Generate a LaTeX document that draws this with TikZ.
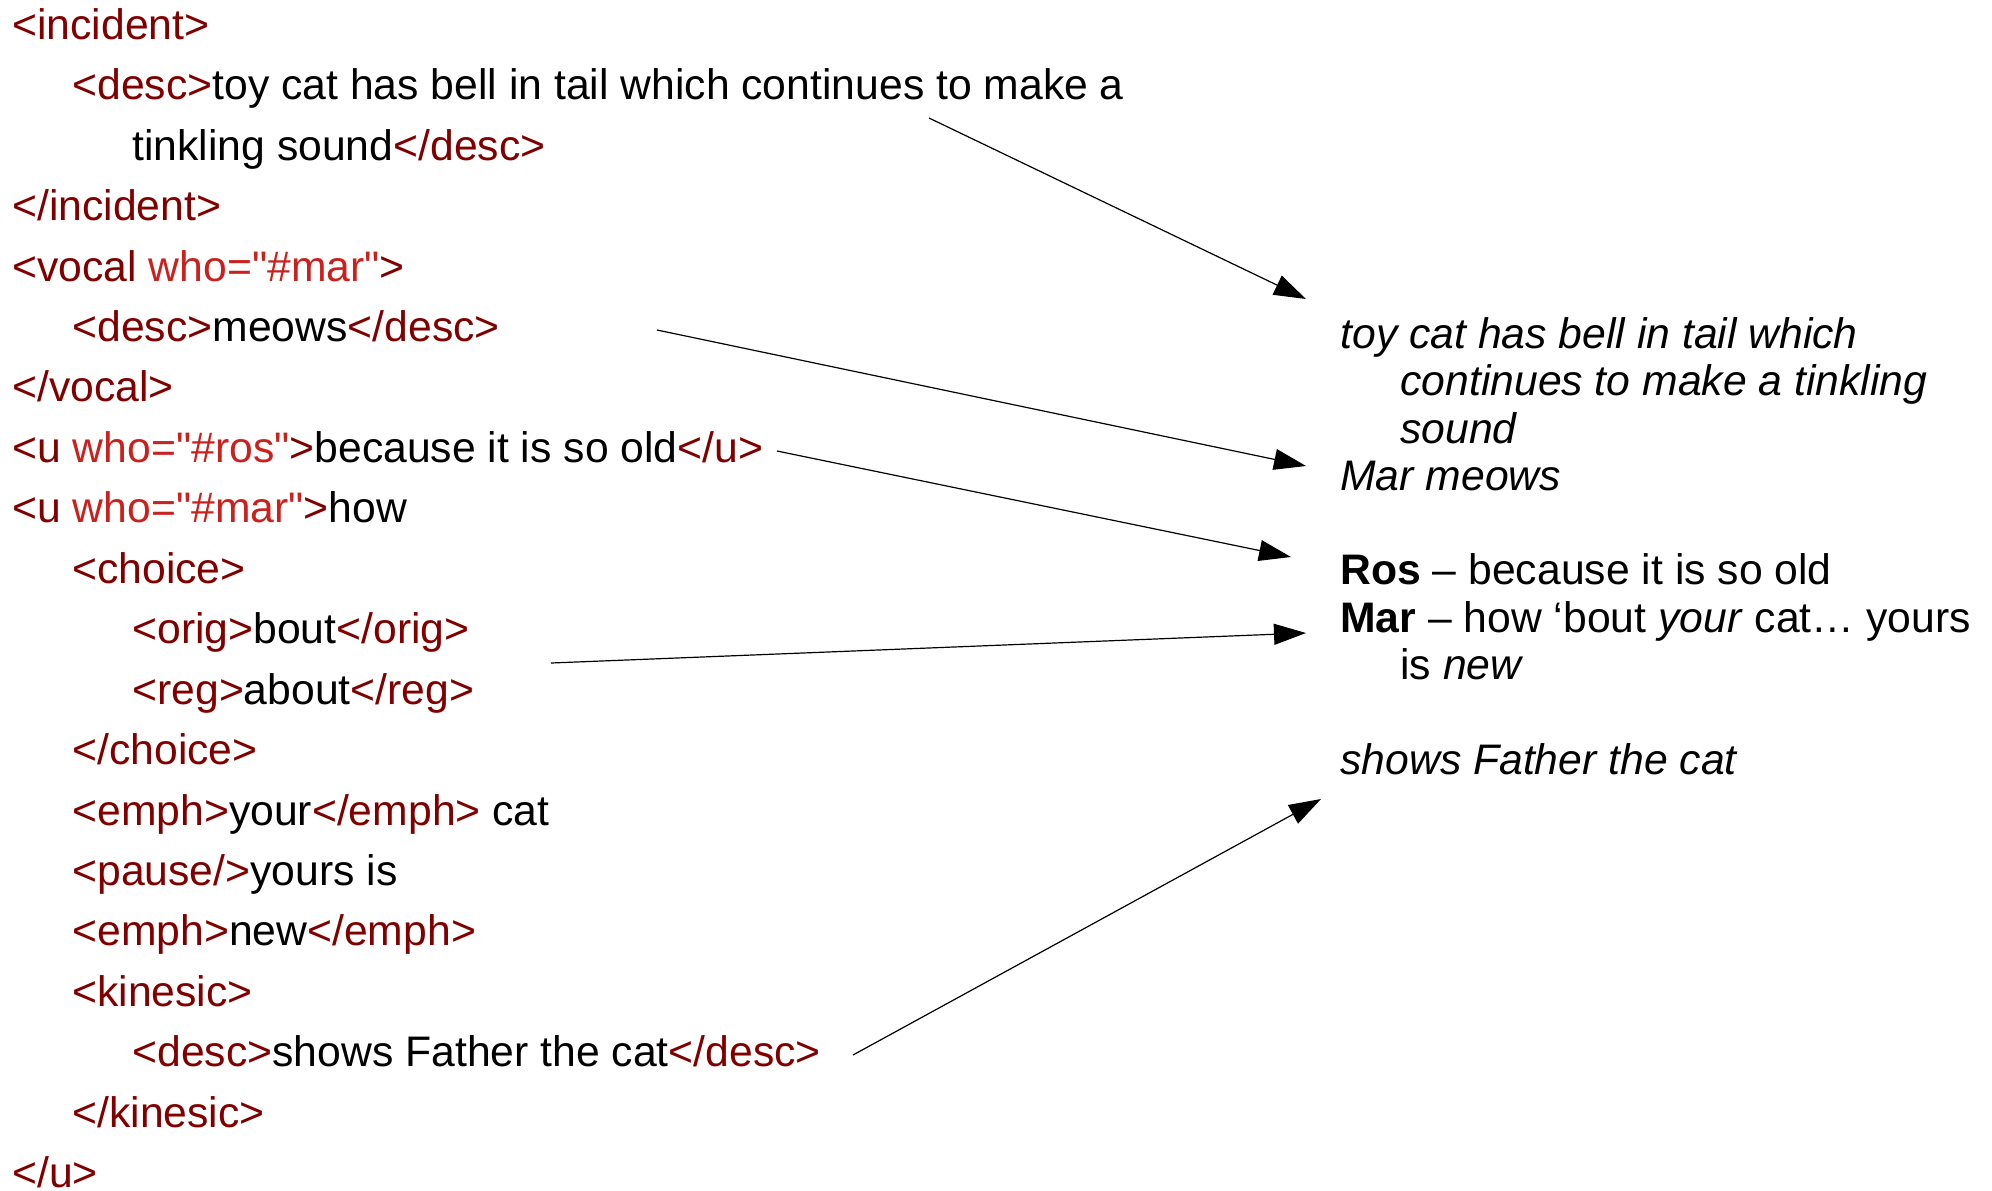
\documentclass[tikz,border=0pt]{standalone}
\usepackage{fontspec}
\setmainfont{Liberation Sans}[Ligatures=TeXOff]
\usepackage{tikz}
\usetikzlibrary{arrows.meta}
\usetikzlibrary{positioning}

\definecolor{tagred}{HTML}{800000}
\definecolor{attred}{HTML}{C9211E}
\newcommand{\xtag}[1]{\textcolor{tagred}{#1}}
\newcommand{\xatt}[1]{\textcolor{attred}{#1}}

\begin{document}
\begin{tikzpicture}[
                x=0.5pt, y=-0.5pt,
                codeline/.style={inner sep=0pt, anchor=base west,
                        font=\fontsize{21.35pt}{25pt}\selectfont},
                readline/.style={codeline, font=\fontsize{21.35pt}{25pt}\selectfont\itshape},
                arrow/.style={-{Triangle[length=16pt, width=10.5pt]}, line width=0.6pt},
            ]
            \useasboundingbox (0,0) rectangle (1992,1190);

            % TEI markup
            \node[codeline] (incident_open) at (12,39.3) {\xtag{<incident>}};
            \node[codeline] (desc_one) at (72,99.7) {\xtag{<desc>}toy cat has bell in tail which continues to make a};
            \node[codeline] (desc_two) at (132,160.2) {tinkling sound\xtag{</desc>}};
            \node[codeline] (incident_close) at (12,220.6) {\xtag{</incident>}};
            \node[codeline] (vocal_open) at (12,281.1) {\xtag{<vocal }\xatt{who="\#mar"}\xtag{>}};
            \node[codeline] (vocal_desc) at (72,341.5) {\xtag{<desc>}meows\xtag{</desc>}};
            \node[codeline] (vocal_close) at (12,401.9) {\xtag{</vocal>}};
            \node[codeline] (u_ros) at (12,462.4) {\xtag{<u }\xatt{who="\#ros"}\xtag{>}because it is so old\xtag{</u>}};
            \node[codeline] (u_mar) at (12,522.8) {\xtag{<u }\xatt{who="\#mar"}\xtag{>}how};
            \node[codeline] (choice_open) at (72,583.3) {\xtag{<choice>}};
            \node[codeline] (orig) at (132,643.7) {\xtag{<orig>}bout\xtag{</orig>}};
            \node[codeline] (reg) at (132,704.1) {\xtag{<reg>}about\xtag{</reg>}};
            \node[codeline] (choice_close) at (72,764.6) {\xtag{</choice>}};
            \node[codeline] (emph_your) at (72,825.0) {\xtag{<emph>}your\xtag{</emph>} cat};
            \node[codeline] (pause) at (72,885.5) {\xtag{<pause/>}yours is};
            \node[codeline] (emph_new) at (72,945.9) {\xtag{<emph>}new\xtag{</emph>}};
            \node[codeline] (kinesic_open) at (72,1006.3) {\xtag{<kinesic>}};
            \node[codeline] (kinesic_desc) at (132,1066.8) {\xtag{<desc>}shows Father the cat\xtag{</desc>}};
            \node[codeline] (kinesic_close) at (72,1127.2) {\xtag{</kinesic>}};
            \node[codeline] (u_close) at (12,1187.7) {\xtag{</u>}};

            % rendered transcript
            \node[readline] (show_toy) at (1340,348) {toy cat has bell in tail which};
            \node[readline] (show_toy_b) at (1400,395) {continues to make a tinkling};
            \node[readline] (show_toy_c) at (1400,443) {sound};
            \node[readline] (show_meow) at (1340,490) {Mar meows};
            \node[codeline] (show_ros) at (1340,584) {\textbf{Ros} – because it is so old};
            \node[codeline] (show_mar) at (1340,632) {\textbf{Mar} – how ‘bout \textit{your} cat… yours};
            \node[codeline] (show_mar_b) at (1400,679) {is \textit{new}};
            \node[readline] (show_kin) at (1340,774) {shows Father the cat};

            \coordinate (toy_from) at (929,118);
            \coordinate (toy_to) at (1306,299);
            \coordinate (meow_from) at (657,330);
            \coordinate (meow_to) at (1306,466);
            \coordinate (ros_from) at (777,451);
            \coordinate (ros_to) at (1291,557);
            \coordinate (mar_from) at (551,663);
            \coordinate (mar_to) at (1306,633);
            \coordinate (kin_from) at (853,1055);
            \coordinate (kin_to) at (1321,799);

            \draw[arrow] (toy_from) -- (toy_to);
            \draw[arrow] (meow_from) -- (meow_to);
            \draw[arrow] (ros_from) -- (ros_to);
            \draw[arrow] (mar_from) -- (mar_to);
            \draw[arrow] (kin_from) -- (kin_to);
        \end{tikzpicture}
\end{document}
